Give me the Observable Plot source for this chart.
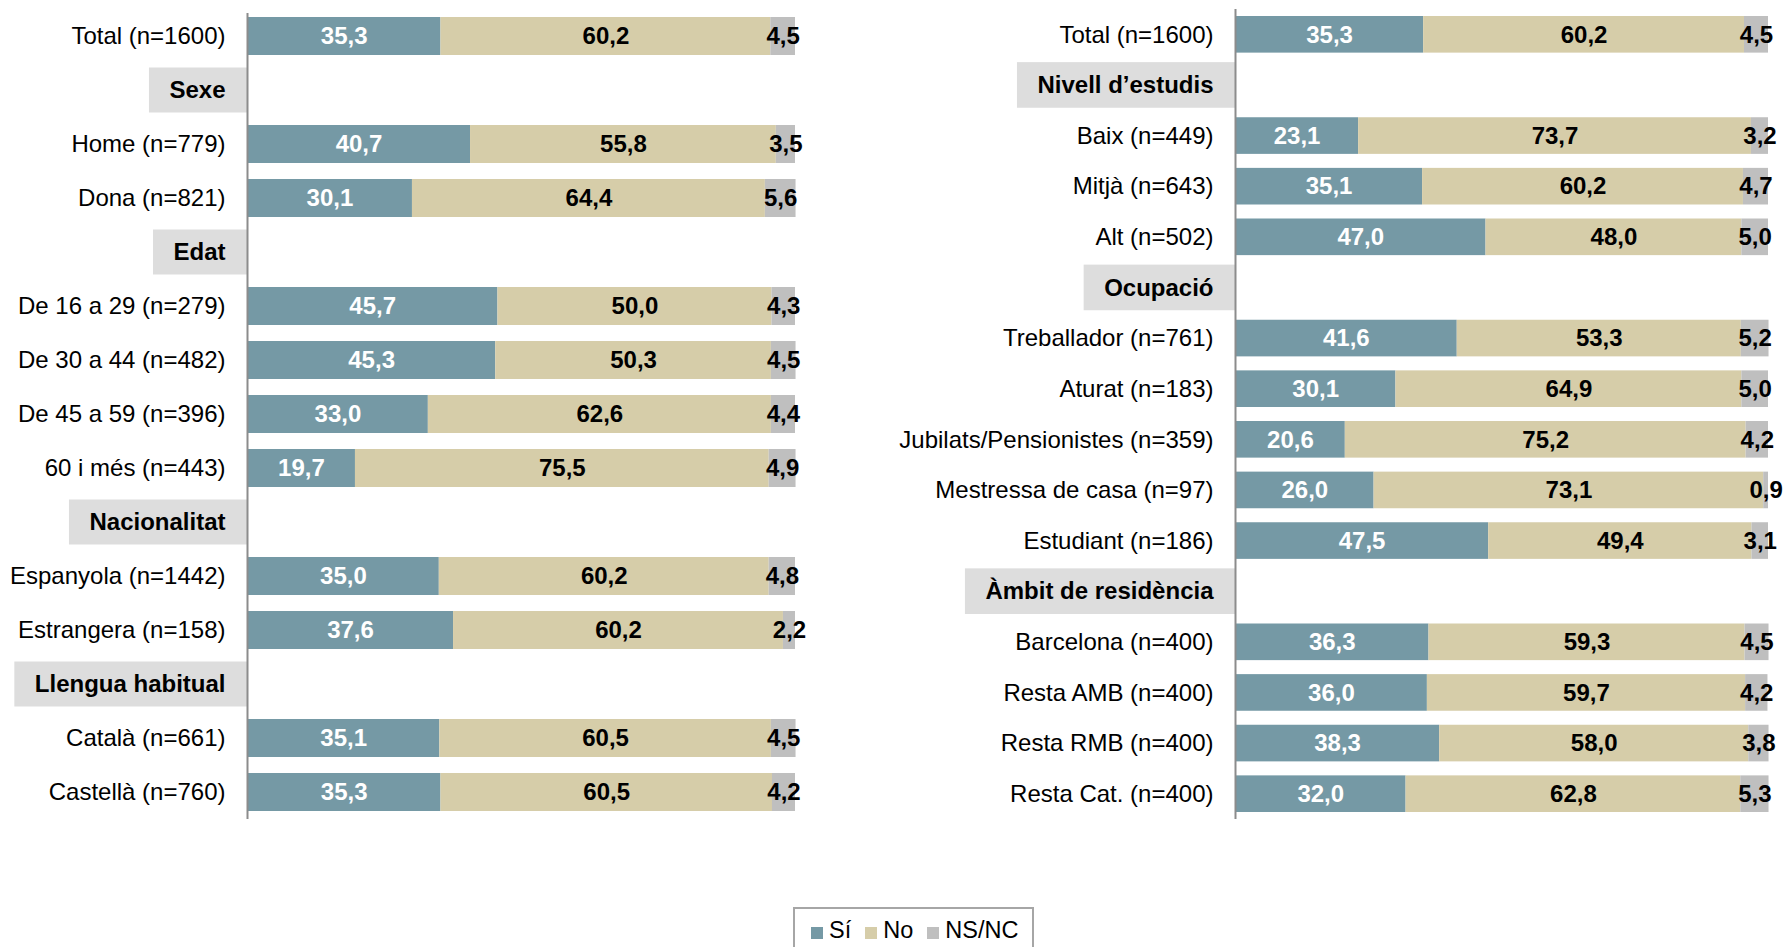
<!DOCTYPE html>
<html>
<head>
<meta charset="utf-8">
<script src="https://cdn.jsdelivr.net/npm/d3@7"></script>
<script src="https://cdn.jsdelivr.net/npm/@observablehq/plot@0.6"></script>
<style>
  html, body { margin: 0; padding: 0; background: #fff; }
  #root { position: relative; width: 1784px; height: 947px; overflow: hidden; font-family: "Liberation Sans", Arial, sans-serif; }
  .panel { position: absolute; top: 0; }
  #legend { position: absolute; left: 793px; top: 907px; width: 241px; height: 50px; box-sizing: border-box;
            border: 2px solid #a6a6a6; display: flex; align-items: flex-start; padding: 8px 0 0 16px; gap: 0;
            font-size: 23.5px; color: #000; }
  #legend .item { display: flex; align-items: center; margin-right: 14px; }
  #legend .sw { width: 12px; height: 12px; margin-right: 6px; margin-top: 4px; }
</style>
</head>
<body>
<div id="root"></div>
<script>
const seriesNames = ["Sí", "No", "NS/NC"];
const seriesColors = ["#7599A5", "#D6CDA9", "#BFBFBF"];

const leftRows = ["Total (n=1600)", "Sexe", "Home (n=779)", "Dona (n=821)", "Edat",
  "De 16 a 29 (n=279)", "De 30 a 44 (n=482)", "De 45 a 59 (n=396)", "60 i més (n=443)",
  "Nacionalitat", "Espanyola (n=1442)", "Estrangera (n=158)", "Llengua habitual",
  "Català (n=661)", "Castellà (n=760)"];
const leftHeaders = ["Sexe", "Edat", "Nacionalitat", "Llengua habitual"];
const leftSi = [35.3, null, 40.7, 30.1, null, 45.7, 45.3, 33.0, 19.7, null, 35.0, 37.6, null, 35.1, 35.3];
const leftNo = [60.2, null, 55.8, 64.4, null, 50.0, 50.3, 62.6, 75.5, null, 60.2, 60.2, null, 60.5, 60.5];
const leftNs = [4.5, null, 3.5, 5.6, null, 4.3, 4.5, 4.4, 4.9, null, 4.8, 2.2, null, 4.5, 4.2];

const rightRows = ["Total (n=1600)", "Nivell d’estudis", "Baix (n=449)", "Mitjà (n=643)", "Alt (n=502)",
  "Ocupació", "Treballador (n=761)", "Aturat (n=183)", "Jubilats/Pensionistes (n=359)",
  "Mestressa de casa (n=97)", "Estudiant (n=186)", "Àmbit de residència",
  "Barcelona (n=400)", "Resta AMB (n=400)", "Resta RMB (n=400)", "Resta Cat. (n=400)"];
const rightHeaders = ["Nivell d’estudis", "Ocupació", "Àmbit de residència"];
const rightSi = [35.3, null, 23.1, 35.1, 47.0, null, 41.6, 30.1, 20.6, 26.0, 47.5, null, 36.3, 36.0, 38.3, 32.0];
const rightNo = [60.2, null, 73.7, 60.2, 48.0, null, 53.3, 64.9, 75.2, 73.1, 49.4, null, 59.3, 59.7, 58.0, 62.8];
const rightNs = [4.5, null, 3.2, 4.7, 5.0, null, 5.2, 5.0, 4.2, 0.9, 3.1, null, 4.5, 4.2, 3.8, 5.3];

const FONT = "'Liberation Sans', Arial, sans-serif";
const FS = 24;
const fmt = v => v.toFixed(1).replace(".", ",");
const ctx = document.createElement("canvas").getContext("2d");

function panel({rows, headers, si, no, ns, left, width, marginLeft, marginRight, barInset, headInset, ruleInset}) {
  const data = [];
  rows.forEach((r, i) => {
    if (si[i] == null) return;
    let acc = 0;
    [si[i], no[i], ns[i]].forEach((v, k) => {
      data.push({row: r, series: seriesNames[k], value: v, x1: acc, x2: acc + v, mid: acc + v / 2});
      acc += v;
    });
  });
  const normal = rows.filter(r => !headers.includes(r));
  const pxPerUnit = (width - marginLeft - marginRight) / 100;
  ctx.font = `bold ${FS}px ${FONT}`;
  const boxes = headers.map(h => ({row: h, x1: -(ctx.measureText(h).width + 42) / pxPerUnit}));
  const chart = Plot.plot({
    width, height: 830, marginLeft, marginRight, marginTop: 9, marginBottom: 11,
    x: {domain: [0, 100], axis: null},
    y: {domain: rows, type: "band", padding: 0, round: false, axis: null},
    color: {domain: seriesNames, range: seriesColors},
    style: {fontFamily: FONT, fontSize: FS + "px", background: "white"},
    marks: [
      Plot.barX(boxes, {y: "row", x1: "x1", x2: () => 0, fill: "#DDDDDD", insetTop: headInset, insetBottom: headInset}),
      Plot.barX(data, {y: "row", x1: "x1", x2: "x2", fill: "series", insetTop: barInset, insetBottom: barInset}),
      Plot.ruleX([0], {stroke: "#8c8c8c", strokeWidth: 2, insetTop: ruleInset}),
      Plot.text(normal, {y: d => d, frameAnchor: "left", dx: -22, textAnchor: "end", fill: "black", fontSize: FS}),
      Plot.text(headers, {y: d => d, frameAnchor: "left", dx: -22, textAnchor: "end", fill: "black", fontWeight: "bold", fontSize: FS}),
      Plot.text(data.filter(d => d.series === "Sí"), {y: "row", x: "mid", text: d => fmt(d.value), fill: "white", fontWeight: "bold", fontSize: FS}),
      Plot.text(data.filter(d => d.series !== "Sí"), {y: "row", x: "mid", text: d => fmt(d.value), fill: "black", fontWeight: "bold", fontSize: FS})
    ]
  });
  const wrap = document.createElement("div");
  wrap.className = "panel";
  wrap.style.left = left + "px";
  wrap.appendChild(chart);
  return wrap;
}

const root = document.getElementById("root");
root.appendChild(panel({rows: leftRows, headers: leftHeaders, si: leftSi, no: leftNo, ns: leftNs,
  left: 0, width: 820, marginLeft: 247, marginRight: 25, barInset: 8, headInset: 4.5, ruleInset: 4}));
root.appendChild(panel({rows: rightRows, headers: rightHeaders, si: rightSi, no: rightNo, ns: rightNs,
  left: 880, width: 904, marginLeft: 355, marginRight: 16, barInset: 7, headInset: 2.5, ruleInset: 0}));

const legend = document.createElement("div");
legend.id = "legend";
seriesNames.forEach((s, i) => {
  const it = document.createElement("div");
  it.className = "item";
  const sw = document.createElement("span");
  sw.className = "sw";
  sw.style.background = seriesColors[i];
  const t = document.createElement("span");
  t.textContent = s;
  it.appendChild(sw); it.appendChild(t);
  legend.appendChild(it);
});
root.appendChild(legend);
</script>
</body>
</html>
